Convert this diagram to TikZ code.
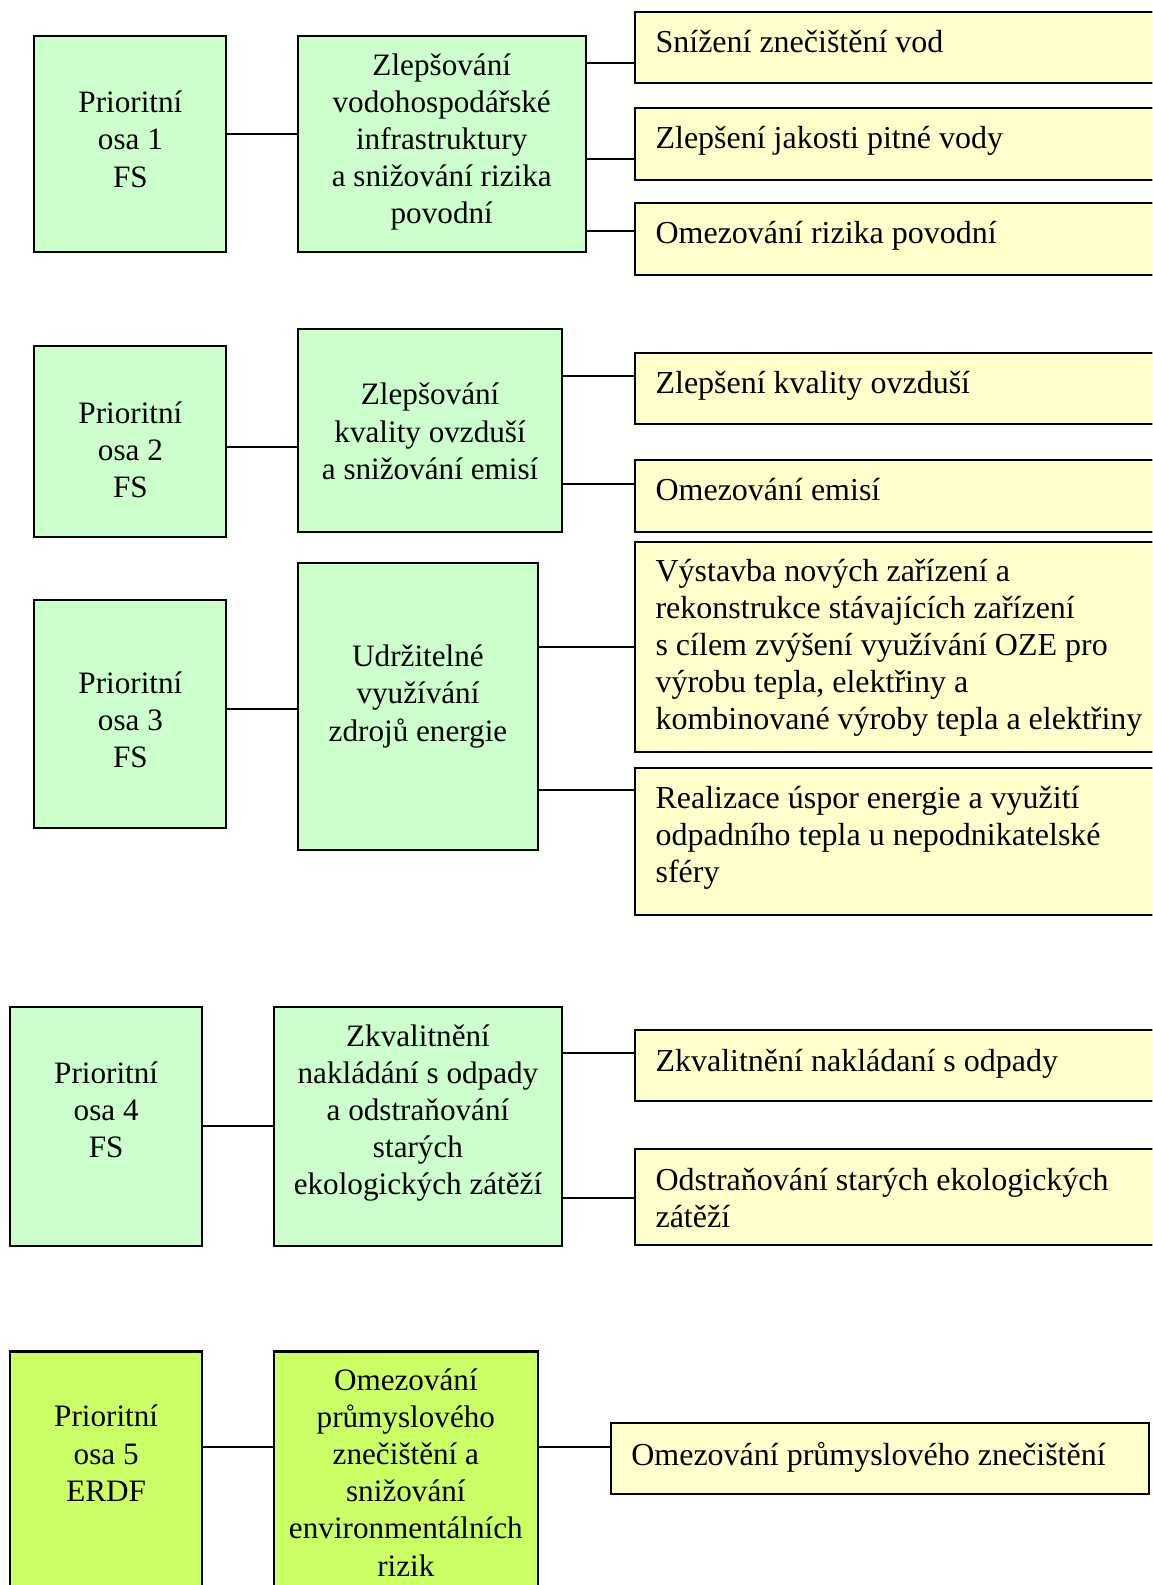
\documentclass[tikz,border=0pt]{standalone}
\usepackage{fontspec}
\setmainfont{Liberation Serif}
\usetikzlibrary{fit}
\definecolor{lgreen}{HTML}{CCFFCC}
\definecolor{lyellow}{HTML}{FFFFCC}
\definecolor{lime}{HTML}{CCFF66}
\begin{document}
\begin{tikzpicture}[x=0.3729pt, y=-0.3729pt,
  box/.style={draw=black, line width=0.75pt, inner sep=0pt, rectangle},
  gbox/.style={box, fill=lgreen},
  lbox/.style={box, fill=lime},
  ybox/.style={box, fill=lyellow},
  txt/.style={font=\fontsize{11.5pt}{13.7pt}\selectfont, align=center, inner sep=0pt},
  ltxt/.style={font=\fontsize{11.8pt}{13.7pt}\selectfont, align=left, inner sep=0pt, anchor=west},
  conn/.style={draw=black, line width=0.75pt}]
\clip (0,0) rectangle (1140,1568);
\fill[white] (0,0) rectangle (1140,1568);

% ---------- group 1 ----------
\node[gbox, fit={(34,36) (224,249)}] (P1) {};
\node[gbox, fit={(295,36) (580,249)}] (Z1) {};
\node[ybox, fit={(628,12) (1146,82)}] (Y1a) {};
\node[ybox, fit={(628,107) (1146,178)}] (Y1b) {};
\node[ybox, fit={(628,201) (1146,272)}] (Y1c) {};
\node[txt] (P1t) at (129,141) {\strut Prioritní\\osa 1\\FS\strut};
\node[txt] (Z1t) at (437,140.5) {\strut Zlepšování\\vodohospodářské\\infrastruktury\\a snižování rizika\\povodní\strut};
\node[ltxt] (Y1at) at (648,45) {\strut Snížení znečištění vod\strut};
\node[ltxt] (Y1bt) at (648,140) {\strut Zlepšení jakosti pitné vody\strut};
\node[ltxt] (Y1ct) at (648,234) {\strut Omezování rizika povodní\strut};
\coordinate (r1) at (0,133);
\coordinate (r1a) at (0,62);
\coordinate (r1b) at (0,157);
\coordinate (r1c) at (0,229);
\draw[conn] (P1.east |- r1) -- (Z1.west |- r1);
\draw[conn] (Z1.east |- r1a) -- (Y1a.west |- r1a);
\draw[conn] (Z1.east |- r1b) -- (Y1b.west |- r1b);
\draw[conn] (Z1.east |- r1c) -- (Y1c.west |- r1c);

% ---------- group 2 ----------
\node[gbox, fit={(34,342) (224,531)}] (P2) {};
\node[gbox, fit={(295,325) (556,526)}] (Z2) {};
\node[ybox, fit={(628,349) (1146,419)}] (Y2a) {};
\node[ybox, fit={(628,455) (1146,526)}] (Y2b) {};
\node[txt] (P2t) at (129,448) {\strut Prioritní\\osa 2\\FS\strut};
\node[txt] (Z2t) at (425.5,430) {\strut Zlepšování\\kvality ovzduší\\a snižování emisí\strut};
\node[ltxt] (Y2at) at (648,382) {\strut Zlepšení kvality ovzduší\strut};
\node[ltxt] (Y2bt) at (648,488) {\strut Omezování emisí\strut};
\coordinate (r2) at (0,442);
\coordinate (r2a) at (0,372);
\coordinate (r2b) at (0,479);
\draw[conn] (P2.east |- r2) -- (Z2.west |- r2);
\draw[conn] (Z2.east |- r2a) -- (Y2a.west |- r2a);
\draw[conn] (Z2.east |- r2b) -- (Y2b.west |- r2b);

% ---------- group 3 ----------
\node[gbox, fit={(34,594) (224,819)}] (P3) {};
\node[gbox, fit={(295,557) (532,841)}] (Z3) {};
\node[ybox, fit={(628,536) (1146,744)}] (Y3a) {};
\node[ybox, fit={(628,760) (1146,905)}] (Y3b) {};
\node[txt] (P3t) at (129,715) {\strut Prioritní\\osa 3\\FS\strut};
\node[txt] (Z3t) at (413.5,689) {\strut Udržitelné\\využívání\\zdrojů energie\strut};
\node[ltxt] (Y3at) at (648,641) {\strut Výstavba nových zařízení a\\rekonstrukce stávajících zařízení\\s cílem zvýšení využívání OZE pro\\výrobu tepla, elektřiny a\\kombinované výroby tepla a elektřiny\strut};
\node[ltxt] (Y3bt) at (648,829) {\strut Realizace úspor energie a využití\\odpadního tepla u nepodnikatelské\\sféry\strut};
\coordinate (r3) at (0,701);
\coordinate (r3a) at (0,640);
\coordinate (r3b) at (0,782);
\draw[conn] (P3.east |- r3) -- (Z3.west |- r3);
\draw[conn] (Z3.east |- r3a) -- (Y3a.west |- r3a);
\draw[conn] (Z3.east |- r3b) -- (Y3b.west |- r3b);

% ---------- group 4 ----------
\node[gbox, fit={(10,996) (200,1233)}] (P4) {};
\node[gbox, fit={(271,996) (556,1233)}] (Z4) {};
\node[ybox, fit={(628,1019) (1146,1089)}] (Y4a) {};
\node[ybox, fit={(628,1137) (1146,1232)}] (Y4b) {};
\node[txt] (P4t) at (105,1101) {\strut Prioritní\\osa 4\\FS\strut};
\node[txt] (Z4t) at (413.5,1101) {\strut Zkvalitnění\\nakládání s odpady\\a odstraňování\\starých\\ekologických zátěží\strut};
\node[ltxt] (Y4at) at (648,1053) {\strut Zkvalitnění nakládaní s odpady\strut};
\node[ltxt] (Y4bt) at (648,1188.5) {\strut Odstraňování starých ekologických\\zátěží\strut};
\coordinate (r4) at (0,1114);
\coordinate (r4a) at (0,1042);
\coordinate (r4b) at (0,1185);
\draw[conn] (P4.east |- r4) -- (Z4.west |- r4);
\draw[conn] (Z4.east |- r4a) -- (Y4a.west |- r4a);
\draw[conn] (Z4.east |- r4b) -- (Y4b.west |- r4b);

% ---------- group 5 ----------
\node[lbox, fit={(10,1337) (200,1580)}] (P5) {};
\node[lbox, fit={(271,1337) (532,1580)}] (Z5) {};
\node[ybox, fit={(604,1408) (1137,1478)}] (Y5) {};
\node[txt] (P5t) at (105,1441) {\strut Prioritní\\osa 5\\ERDF\strut};
\node[txt] (Z5t) at (401.5,1460) {\strut Omezování\\průmyslového\\znečištění a\\snižování\\environmentálních\\rizik\strut};
\node[ltxt] (Y5t) at (624,1442) {\strut Omezování průmyslového znečištění\strut};
\coordinate (r5) at (0,1431);
\draw[conn] (P5.east |- r5) -- (Z5.west |- r5);
\draw[conn] (Z5.east |- r5) -- (Y5.west |- r5);
\end{tikzpicture}
\end{document}
